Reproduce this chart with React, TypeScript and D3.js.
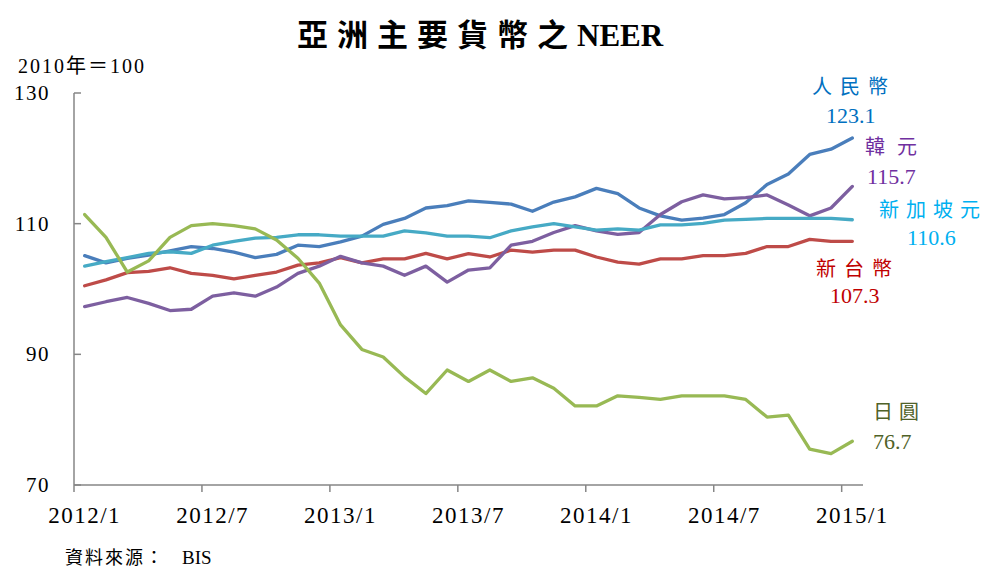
import React from 'react';
import * as d3 from 'd3';

// 月份 2012/1 ~ 2015/1
const months = [
  '2012/1', '2012/2', '2012/3', '2012/4', '2012/5', '2012/6', '2012/7', '2012/8', '2012/9', '2012/10', '2012/11', '2012/12',
  '2013/1', '2013/2', '2013/3', '2013/4', '2013/5', '2013/6', '2013/7', '2013/8', '2013/9', '2013/10', '2013/11', '2013/12',
  '2014/1', '2014/2', '2014/3', '2014/4', '2014/5', '2014/6', '2014/7', '2014/8', '2014/9', '2014/10', '2014/11', '2014/12',
  '2015/1',
];
const tickMonths = ['2012/1', '2012/7', '2013/1', '2013/7', '2014/1', '2014/7', '2015/1'];
const yTicks = [70, 90, 110, 130];

const rmb = [105.1, 104.0, 104.7, 105.2, 105.85, 106.5, 106.2, 105.65, 104.8, 105.3, 106.7, 106.5,
  107.2, 108.1, 109.9, 110.8, 112.4, 112.75, 113.5, 113.25, 113.0, 111.9, 113.3, 114.1,
  115.4, 114.6, 112.4, 111.2, 110.55, 110.85, 111.4, 113.2, 116.0, 117.6, 120.6, 121.4, 123.1];
const krw = [97.3, 98.05, 98.7, 97.8, 96.7, 96.9, 98.9, 99.4, 98.9, 100.3, 102.4, 103.5,
  105.0, 104.0, 103.5, 102.1, 103.5, 101.05, 102.9, 103.25, 106.7, 107.3, 108.65, 109.7,
  108.9, 108.35, 108.65, 111.4, 113.35, 114.4, 113.8, 114.0, 114.4, 112.85, 111.2, 112.4, 115.7];
const sgd = [103.5, 104.2, 104.8, 105.45, 105.7, 105.45, 106.7, 107.3, 107.8, 107.9, 108.3, 108.3,
  108.1, 108.1, 108.1, 108.9, 108.6, 108.1, 108.1, 107.85, 108.9, 109.5, 110.0, 109.5,
  109.0, 109.2, 109.0, 109.8, 109.8, 110.05, 110.55, 110.65, 110.8, 110.8, 110.8, 110.8, 110.6];
const twd = [100.5, 101.4, 102.5, 102.7, 103.25, 102.4, 102.1, 101.55, 102.1, 102.6, 103.65, 104.0,
  104.8, 104.0, 104.6, 104.6, 105.45, 104.6, 105.4, 104.9, 105.95, 105.65, 105.95, 105.95,
  104.9, 104.1, 103.8, 104.6, 104.6, 105.1, 105.1, 105.45, 106.5, 106.5, 107.6, 107.3, 107.3];
const jpy = [111.4, 107.9, 102.6, 104.3, 107.9, 109.7, 110.0, 109.7, 109.2, 107.5, 104.7, 100.9,
  94.5, 90.75, 89.6, 86.55, 84.0, 87.6, 85.85, 87.6, 85.85, 86.4, 84.8, 82.1,
  82.1, 83.65, 83.4, 83.1, 83.65, 83.65, 83.65, 83.1, 80.4, 80.7, 75.5, 74.8, 76.7];

const series = [
  {name: '人民幣', vals: rmb, color: '#4a7ebb', label: '#0070C0', lx: 812, ly: 94, ls: 8, vx: 826, vy: 123},
  {name: '新台幣', vals: twd, color: '#be4b48', label: '#C00000', lx: 816, ly: 276, ls: 8, vx: 830, vy: 303},
  {name: '韓元', vals: krw, color: '#7d5fa0', label: '#7030A0', lx: 865, ly: 154, ls: 12, vx: 867, vy: 184},
  {name: '新加坡元', vals: sgd, color: '#46aac5', label: '#00B0F0', lx: 879, ly: 217, ls: 7, vx: 907, vy: 245},
  {name: '日圓', vals: jpy, color: '#98b954', label: '#4F6228', lx: 873, ly: 419, ls: 6, vx: 873, vy: 449},
];

const serif = "'Liberation Serif', 'Noto Sans CJK TC', serif";

export default function App() {
  const x = d3.scaleBand().domain(months).range([74, 863]).padding(0);
  const y = d3.scaleLinear().domain([70, 130]).range([485, 93]);
  const bw = x.bandwidth();
  const line = d3.line<number>()
    .x((d, i) => (x(months[i]) as number) + bw / 2)
    .y(d => y(d));

  return (
    <svg width={987} height={569} style={{position: 'absolute', left: 0, top: 0, background: '#fff'}}
      fontFamily={serif}>
      <text x={297} y={46} fontSize={31} fontWeight="bold" fill="#000">
        <tspan letterSpacing={9}>亞洲主要貨幣之</tspan>
        <tspan>NEER</tspan>
      </text>
      <text x={18} y={73} fontSize={20} letterSpacing={2} fill="#000">2010年＝100</text>

      {/* y axis */}
      <line x1={74} x2={74} y1={y(130)} y2={y(70)} stroke="#868686" strokeWidth={1.5} />
      {yTicks.map(t => (
        <g key={t}>
          <line x1={74} x2={81} y1={y(t)} y2={y(t)} stroke="#868686" strokeWidth={1.5} />
          <text x={50} y={y(t) + 7} fontSize={21} letterSpacing={1.5} textAnchor="end" fill="#000">{t}</text>
        </g>
      ))}

      {/* x axis */}
      <line x1={74} x2={863} y1={485} y2={485} stroke="#868686" strokeWidth={1.5} />
      {tickMonths.map(m => (
        <g key={m}>
          <line x1={x(m)} x2={x(m)} y1={485} y2={492} stroke="#868686" strokeWidth={1.5} />
          <text x={(x(m) as number) + bw / 2} y={523} fontSize={23} letterSpacing={1.5} textAnchor="middle" fill="#000">{m}</text>
        </g>
      ))}

      {series.map(s => (
        <path key={s.name} d={line(s.vals) || ''} fill="none" stroke={s.color} strokeWidth={3.3}
          strokeLinejoin="round" strokeLinecap="round" />
      ))}

      {series.map(s => (
        <g key={s.name + 'l'} fill={s.label}>
          <text x={s.lx} y={s.ly} fontSize={20} letterSpacing={s.ls}>{s.name}</text>
          <text x={s.vx} y={s.vy} fontSize={22}>{s.vals[s.vals.length - 1].toFixed(1)}</text>
        </g>
      ))}

      <text x={65} y={564} fontSize={18} fill="#000">
        <tspan letterSpacing={2}>資料來源：</tspan>
        <tspan x={182} fontSize={19}>BIS</tspan>
      </text>
    </svg>
  );
}
